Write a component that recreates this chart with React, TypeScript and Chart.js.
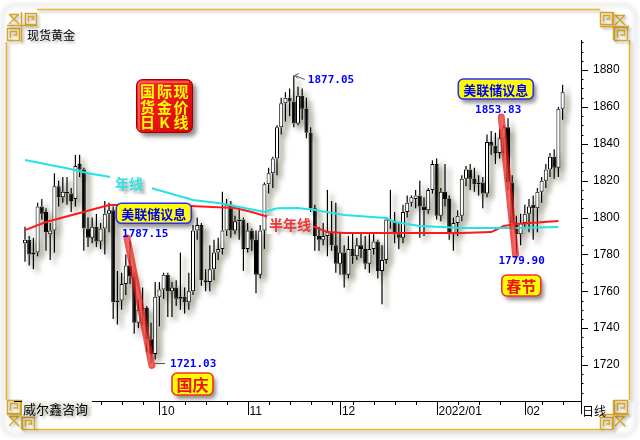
import React, { useEffect, useRef } from 'react';
import { Chart, registerables } from 'chart.js';

Chart.register(...registerables);

// ---- daily OHLC of spot gold (one candle per trading day, 2021-08-18 .. 2022-02-14) ----
const opens = [
  1786, 1788, 1780, 1781, 1806, 1803, 1791, 1793, 1817, 1811,
  1814, 1813, 1810, 1829, 1826, 1794, 1789, 1795, 1787, 1794,
  1802, 1804, 1754, 1755, 1764, 1774, 1768, 1743, 1750, 1751,
  1734, 1726, 1757, 1761, 1769, 1760, 1762, 1756, 1757, 1754,
  1760, 1793, 1796, 1766, 1765, 1772, 1781, 1783, 1793, 1807,
  1793, 1798, 1799, 1783, 1793, 1788, 1769, 1793, 1818, 1824,
  1832, 1849, 1862, 1865, 1863, 1851, 1866, 1859, 1846, 1805,
  1790, 1788, 1790, 1792, 1785, 1775, 1781, 1769, 1783, 1779,
  1785, 1783, 1775, 1783, 1787, 1771, 1777, 1799, 1798, 1791,
  1789, 1803, 1808, 1810, 1812, 1806, 1804, 1815, 1829, 1801,
  1814, 1810, 1791, 1797, 1801, 1821, 1826, 1821, 1818, 1819,
  1813, 1841, 1839, 1835, 1843, 1849, 1819, 1797, 1791, 1797,
  1802, 1807, 1805, 1814, 1820, 1826, 1833, 1827, 1859,
];
const highs = [
  1795, 1790, 1789, 1808, 1810, 1805, 1797, 1824, 1820, 1822,
  1822, 1816, 1834, 1834, 1827, 1800, 1800, 1802, 1797, 1809,
  1808, 1806, 1771, 1770, 1780, 1787.15, 1770, 1756, 1762, 1752,
  1743, 1765, 1765, 1770, 1770, 1765, 1766, 1781, 1762, 1770,
  1796, 1800, 1797, 1772, 1785, 1788, 1789, 1814, 1810, 1809,
  1801, 1806, 1800, 1797, 1794, 1793, 1796, 1819, 1827, 1833,
  1850, 1865, 1868, 1870, 1877.05, 1871, 1870, 1865, 1849, 1807,
  1795, 1797, 1815, 1809, 1808, 1792, 1785, 1790, 1792, 1789,
  1792, 1790, 1791, 1791, 1788, 1785, 1800, 1815, 1803, 1797,
  1807, 1812, 1812, 1815, 1820, 1811, 1816, 1831, 1832, 1816,
  1829, 1812, 1800, 1804, 1823, 1828, 1829, 1827, 1823, 1822,
  1845, 1847, 1846, 1848, 1850, 1853.83, 1823, 1801, 1802, 1807,
  1810, 1812, 1816, 1822, 1829, 1835, 1837, 1860, 1872,
];
const lows = [
  1776, 1774, 1772, 1779, 1799, 1782, 1777, 1781, 1806, 1808,
  1807, 1803, 1806, 1822, 1782, 1784, 1786, 1784, 1783, 1780,
  1792, 1745, 1742, 1750, 1758, 1764, 1737, 1740, 1742, 1727,
  1721.03, 1723, 1741, 1756, 1746, 1746, 1752, 1750, 1748, 1750,
  1758, 1788, 1763, 1760, 1760, 1766, 1777, 1780, 1790, 1789,
  1791, 1788, 1771, 1781, 1782, 1759, 1767, 1783, 1813, 1816,
  1823, 1845, 1852, 1855, 1849, 1850, 1853, 1843, 1803, 1782,
  1782, 1785, 1779, 1782, 1770, 1769, 1762, 1767, 1775, 1777,
  1778, 1772, 1770, 1780, 1767, 1753, 1775, 1794, 1786, 1783,
  1786, 1800, 1806, 1805, 1789, 1790, 1802, 1813, 1799, 1798,
  1806, 1788, 1782, 1790, 1798, 1817, 1815, 1814, 1812, 1805,
  1811, 1834, 1829, 1832, 1835, 1815, 1794, 1779.9, 1785, 1794,
  1792, 1788, 1792, 1808, 1816, 1822, 1821, 1822, 1853,
];
const closes = [
  1788, 1780, 1781, 1806, 1802, 1792, 1793, 1817, 1811, 1814,
  1813, 1809, 1828, 1826, 1794, 1789, 1795, 1787, 1794, 1802,
  1804, 1754, 1755, 1764, 1774, 1768, 1743, 1750, 1751, 1734,
  1726, 1757, 1761, 1769, 1760, 1762, 1756, 1757, 1754, 1760,
  1793, 1796, 1766, 1765, 1772, 1781, 1783, 1793, 1807, 1793,
  1798, 1799, 1783, 1793, 1788, 1769, 1793, 1818, 1824, 1832,
  1849, 1862, 1865, 1863, 1851, 1866, 1859, 1846, 1805, 1790,
  1788, 1790, 1792, 1785, 1775, 1781, 1769, 1783, 1779, 1785,
  1783, 1775, 1783, 1787, 1771, 1777, 1799, 1798, 1791, 1789,
  1803, 1808, 1811, 1812, 1806, 1804, 1815, 1829, 1801, 1814,
  1810, 1791, 1797, 1801, 1821, 1826, 1821, 1818, 1819, 1813,
  1841, 1839, 1835, 1843, 1849, 1819, 1797, 1791, 1797, 1802,
  1806, 1805, 1814, 1820, 1826, 1833, 1827, 1859, 1868,
];

// ---- moving averages (candle index, price) ----
const yearMaIdx = [0, 6, 10, 15, 20, 30, 40, 46, 52, 57, 60, 65, 69, 76, 86, 88, 94, 104, 117, 127];
const yearMaVal = [1831.2, 1828.5, 1826.7, 1824.0, 1822.1, 1816.0, 1809.5, 1807.9, 1805.3, 1803.0, 1805.0, 1805.2, 1804.1, 1801.4, 1799.7, 1797.6, 1795.4, 1794.3, 1794.3, 1794.9];
const halfMaIdx = [0, 5, 13, 20, 34, 50, 54, 58, 69, 72, 76, 104, 111, 114, 117, 127];
const halfMaVal = [1793.2, 1797.6, 1802.5, 1806.8, 1806.8, 1805.2, 1803.0, 1800.3, 1794.9, 1792.1, 1791.6, 1791.6, 1792.1, 1795.4, 1796.5, 1798.1];

// ---- axis ticks ----
const monthStarts = [32, 53, 75, 98, 119];
const monthLabels = ['10', '11', '12', '2022/01', '02'];
const weekTicks = [3, 8, 13, 18, 23, 28, 38, 43, 48, 58, 63, 68, 73, 78, 83, 88, 93, 103, 108, 113, 123, 128];
const yTicks = [1720, 1740, 1760, 1780, 1800, 1820, 1840, 1860, 1880];

// ---- annotated extremes (candle index + which price) ----
const notes = [
  { i: 64, kind: 'high', dx: 14, dy: 5 },
  { i: 25, kind: 'high', dx: -8, dy: -7 },
  { i: 30, kind: 'low', dx: 19, dy: 1 },
  { i: 115, kind: 'high', dx: -33, dy: -8 },
  { i: 117, kind: 'low', dx: -18, dy: 7 },
];
const drops = [
  { i0: 24.3, v0: 1788.9, i1: 30.2, v1: 1719.8 },
  { i0: 113.4, v0: 1854.5, i1: 116.8, v1: 1779.9 },
];

const FONT_CJK = "'Noto Sans CJK SC', 'Noto Sans', sans-serif";
const FONT_LAT = "'Liberation Sans', Arial, sans-serif";
const FONT_MONO = "'DejaVu Sans Mono', monospace";

const idx = closes.map((_, i) => i);
const bodyData = idx.map((i) => {
  let a = Math.min(opens[i], closes[i]);
  let b = Math.max(opens[i], closes[i]);
  if (b - a < 0.6) {
    const m = (a + b) / 2;
    a = m - 0.3;
    b = m + 0.3;
  }
  return { x: i, y: [a, b] };
});
const upperWick = idx.map((i) => ({ x: i, y: [Math.max(opens[i], closes[i]), highs[i]] }));
const lowerWick = idx.map((i) => ({ x: i, y: [lows[i], Math.min(opens[i], closes[i])] }));
const bodyColors = idx.map((i) => (closes[i] >= opens[i] ? '#ffffff' : '#000000'));

function setShadow(ctx: CanvasRenderingContext2D, blur = 3, ox = 3, oy = 3, col = 'rgba(0,0,0,0.4)') {
  ctx.shadowColor = col;
  ctx.shadowBlur = blur;
  ctx.shadowOffsetX = ox;
  ctx.shadowOffsetY = oy;
}
function noShadow(ctx: CanvasRenderingContext2D) {
  ctx.shadowColor = 'transparent';
  ctx.shadowBlur = 0;
  ctx.shadowOffsetX = 0;
  ctx.shadowOffsetY = 0;
}

function spiral(ctx: CanvasRenderingContext2D, x: number, y: number, s: number) {
  ctx.beginPath();
  ctx.rect(x + 0.5, y + 0.5, s, s);
  ctx.moveTo(x + 3.5, y + s - 2.5);
  ctx.lineTo(x + 3.5, y + 3.5);
  ctx.lineTo(x + s - 2.5, y + 3.5);
  ctx.lineTo(x + s - 2.5, y + s - 5);
  ctx.lineTo(x + 6.5, y + s - 5);
  ctx.stroke();
}
function cross(ctx: CanvasRenderingContext2D, x: number, y: number, s: number) {
  ctx.beginPath();
  ctx.moveTo(x, y);
  ctx.lineTo(x + s, y + s);
  ctx.moveTo(x + s, y);
  ctx.lineTo(x, y + s);
  ctx.moveTo(x, y + 0.5);
  ctx.lineTo(x + s, y + 0.5);
  ctx.stroke();
}

function labelBox(ctx: CanvasRenderingContext2D, cx: number, cy: number, w: number, h: number, text: string,
  border: string, color: string, font: string) {
  ctx.save();
  setShadow(ctx, 4, 3, 4, 'rgba(0,0,0,0.45)');
  ctx.beginPath();
  ctx.roundRect(cx - w / 2, cy - h / 2, w, h, 5);
  ctx.fillStyle = '#ffff00';
  ctx.fill();
  noShadow(ctx);
  ctx.lineWidth = 1.6;
  ctx.strokeStyle = border;
  ctx.stroke();
  ctx.fillStyle = color;
  ctx.font = font;
  ctx.textAlign = 'center';
  ctx.textBaseline = 'middle';
  ctx.fillText(text, cx, cy + 1);
  ctx.restore();
}

const decor = {
  id: 'decor',
  beforeDraw(chart: any) {
    const ctx: CanvasRenderingContext2D = chart.ctx;
    ctx.save();
    ctx.fillStyle = '#ffffff';
    ctx.fillRect(0, 0, chart.width, chart.height);
    // faint outer rounded shadow
    ctx.strokeStyle = 'rgba(0,0,0,0.10)';
    ctx.lineWidth = 3;
    ctx.filter = 'blur(2px)';
    ctx.beginPath();
    ctx.roundRect(3, 5, 633, 430, 12);
    ctx.stroke();
    ctx.filter = 'none';
    // golden frame
    setShadow(ctx, 3, 2, 2, 'rgba(0,0,0,0.28)');
    ctx.strokeStyle = '#e9b92c';
    ctx.lineWidth = 1.6;
    ctx.beginPath();
    ctx.moveTo(37, 9.5); ctx.lineTo(600, 9.5);
    ctx.moveTo(629.5, 40); ctx.lineTo(629.5, 400);
    ctx.moveTo(35, 429.5); ctx.lineTo(600, 429.5);
    ctx.moveTo(6.5, 42); ctx.lineTo(6.5, 400);
    ctx.stroke();
    // corner ornaments
    ctx.strokeStyle = '#d6a41e';
    ctx.lineWidth = 1.4;
    // top-left
    cross(ctx, 9, 14, 10); spiral(ctx, 25, 13, 11); spiral(ctx, 7, 28, 12);
    ctx.beginPath(); ctx.moveTo(21.5, 12); ctx.lineTo(21.5, 42); ctx.moveTo(7, 25.5); ctx.lineTo(37, 25.5); ctx.stroke();
    // top-right
    spiral(ctx, 600, 12, 12); cross(ctx, 615, 15, 10); spiral(ctx, 614, 27, 13);
    ctx.beginPath(); ctx.moveTo(613.5, 12); ctx.lineTo(613.5, 40); ctx.moveTo(600, 26.5); ctx.lineTo(629, 26.5); ctx.stroke();
    // bottom-right
    spiral(ctx, 614, 400, 13); spiral(ctx, 600, 417, 12); cross(ctx, 615, 416, 10);
    ctx.beginPath(); ctx.moveTo(613.5, 400); ctx.lineTo(613.5, 429); ctx.moveTo(600, 414.5); ctx.lineTo(629, 414.5); ctx.stroke();
    // bottom-left
    spiral(ctx, 7, 400, 13); cross(ctx, 9, 416, 10); spiral(ctx, 22, 417, 12);
    ctx.beginPath(); ctx.moveTo(21.5, 400); ctx.lineTo(21.5, 429); ctx.moveTo(7, 414.5); ctx.lineTo(36, 414.5); ctx.stroke();
    ctx.restore();
  },
  beforeDatasetsDraw(chart: any) {
    const ctx: CanvasRenderingContext2D = chart.ctx;
    const a = chart.chartArea;
    ctx.save();
    ctx.beginPath();
    ctx.rect(a.left, a.top, a.right - a.left, a.bottom - a.top);
    ctx.clip();
    ctx.filter = 'blur(2.5px)';
    ctx.fillStyle = 'rgba(70,70,35,0.42)';
    ctx.beginPath();
    chart.data.datasets.forEach((ds: any, di: number) => {
      if (ds.type === 'line') return;
      chart.getDatasetMeta(di).data.forEach((el: any) => {
        const p = el.getProps(['x', 'y', 'base', 'width'], true);
        const t = Math.min(p.y, p.base);
        const h = Math.max(Math.abs(p.base - p.y), 1);
        ctx.rect(p.x - p.width / 2 + 4, t + 4, p.width + 1, h);
      });
    });
    ctx.fill();
    ctx.restore();
  },
  afterDraw(chart: any) {
    const ctx: CanvasRenderingContext2D = chart.ctx;
    const xs = chart.scales.x;
    const ys = chart.scales.y;
    const { left, right, top, bottom } = chart.chartArea;
    const px = (v: number) => xs.getPixelForValue(v);
    const py = (v: number) => ys.getPixelForValue(v);
    ctx.save();

    // axes and tick marks
    ctx.strokeStyle = '#000';
    ctx.lineWidth = 1;
    ctx.beginPath();
    ctx.moveTo(left, Math.round(bottom) + 0.5);
    ctx.lineTo(right, Math.round(bottom) + 0.5);
    ctx.moveTo(Math.round(right) + 0.5, top);
    ctx.lineTo(Math.round(right) + 0.5, bottom + 13);
    for (let v = 1705; v <= 1895; v += 5) {
      const y = Math.round(py(v)) + 0.5;
      const len = v % 20 === 0 ? 7 : 2.5;
      ctx.moveTo(right, y);
      ctx.lineTo(right + len, y);
    }
    weekTicks.forEach((i) => {
      const x = Math.round(px(i)) + 0.5;
      ctx.moveTo(x, bottom);
      ctx.lineTo(x, bottom + 4);
    });
    monthStarts.forEach((i) => {
      const x = Math.round(px(i)) + 0.5;
      ctx.moveTo(x, bottom);
      ctx.lineTo(x, bottom + 14);
    });
    ctx.stroke();

    // red highlight strokes of the sharp drops
    ctx.lineCap = 'round';
    drops.forEach((d) => {
      ctx.strokeStyle = 'rgba(232,20,20,0.72)';
      ctx.lineWidth = 7;
      ctx.beginPath();
      ctx.moveTo(px(d.i0), py(d.v0));
      ctx.lineTo(px(d.i1), py(d.v1));
      ctx.stroke();
      ctx.strokeStyle = 'rgba(255,150,130,0.35)';
      ctx.lineWidth = 2.5;
      ctx.stroke();
    });
    ctx.lineCap = 'butt';

    // pointers
    ctx.strokeStyle = '#555';
    ctx.lineWidth = 1;
    {
      const x = px(64), y = py(highs[64]);
      ctx.beginPath();
      ctx.moveTo(x + 1, y);
      ctx.lineTo(x + 11, y + 4);
      ctx.moveTo(x + 1, y);
      ctx.lineTo(x + 5, y - 2);
      ctx.moveTo(x + 1, y);
      ctx.lineTo(x + 4, y + 3);
      ctx.stroke();
      const x2 = px(30), y2 = Math.round(py(lows[30])) + 0.5;
      ctx.beginPath();
      ctx.moveTo(x2 + 4, y2);
      ctx.lineTo(x2 + 14, y2);
      ctx.stroke();
    }

    // extreme value labels
    ctx.font = `bold 11px ${FONT_MONO}`;
    ctx.fillStyle = '#0000ff';
    ctx.textAlign = 'left';
    ctx.textBaseline = 'middle';
    notes.forEach((n) => {
      const v = n.kind === 'high' ? highs[n.i] : lows[n.i];
      ctx.fillText(v.toFixed(2), px(n.i) + n.dx, py(v) + n.dy);
    });

    // MA names
    ctx.font = `bold 14px ${FONT_CJK}`;
    ctx.fillStyle = '#ffffff';
    ctx.fillRect(110, 175, 42, 18);
    ctx.fillRect(267, 216, 46, 18);
    setShadow(ctx, 3, 3, 3, 'rgba(0,0,0,0.35)');
    ctx.fillStyle = '#2ee3e3';
    ctx.fillText('年线', 115, 184);
    ctx.fillStyle = '#f23434';
    ctx.fillText('半年线', 269, 225);
    noShadow(ctx);

    // red title tile
    ctx.save();
    setShadow(ctx, 4, 4, 4, 'rgba(0,0,0,0.45)');
    const g = ctx.createLinearGradient(137, 80, 193, 133);
    g.addColorStop(0, '#ff2a2a');
    g.addColorStop(1, '#d80000');
    ctx.fillStyle = g;
    ctx.beginPath();
    ctx.roundRect(136.5, 79.5, 56, 53, 6);
    ctx.fill();
    noShadow(ctx);
    ctx.strokeStyle = '#9a0000';
    ctx.lineWidth = 1;
    ctx.stroke();
    ctx.strokeStyle = 'rgba(255,170,170,0.8)';
    ctx.beginPath();
    ctx.moveTo(139, 130);
    ctx.lineTo(139, 84);
    ctx.quadraticCurveTo(139, 82, 142, 82);
    ctx.lineTo(189, 82);
    ctx.stroke();
    ctx.fillStyle = '#ffff00';
    ctx.font = `bold 15px ${FONT_CJK}`;
    ctx.textAlign = 'center';
    ctx.textBaseline = 'middle';
    const rows = [['国', '际', '现'], ['货', '金', '价'], ['日', 'K', '线']];
    const cols = [147.5, 164.5, 181];
    const rowsY = [90.5, 106, 121];
    rows.forEach((r, ri) => r.forEach((ch, ci) => ctx.fillText(ch, cols[ci], rowsY[ri] + 1)));
    ctx.restore();

    // event boxes
    labelBox(ctx, 153.8, 213.3, 75, 20, '美联储议息', '#2b2bff', '#0000ff', `bold 13px ${FONT_CJK}`);
    labelBox(ctx, 495.8, 89, 75, 20, '美联储议息', '#2b2bff', '#0000ff', `bold 13px ${FONT_CJK}`);
    labelBox(ctx, 192.5, 384, 41, 22, '国庆', '#ff2a2a', '#ee1111', `bold 16px ${FONT_CJK}`);
    labelBox(ctx, 521.3, 285.5, 39, 21, '春节', '#ff2a2a', '#ee1111', `bold 15px ${FONT_CJK}`);

    // corner captions
    ctx.textAlign = 'left';
    ctx.textBaseline = 'middle';
    ctx.fillStyle = '#f2f2ea';
    ctx.fillRect(22, 401, 70, 15);
    setShadow(ctx, 3, 2, 2, 'rgba(0,0,0,0.35)');
    ctx.fillStyle = '#000';
    ctx.font = `12px ${FONT_CJK}`;
    ctx.fillText('现货黄金', 27, 35.5);
    ctx.font = `13px ${FONT_CJK}`;
    ctx.fillText('威尔鑫咨询', 23, 409);
    noShadow(ctx);
    ctx.font = `12px ${FONT_CJK}`;
    ctx.fillText('日线', 582, 411);

    ctx.restore();
  },
};

export default function App() {
  const ref = useRef<HTMLCanvasElement>(null);
  useEffect(() => {
    if (!ref.current) return;
    const chart = new Chart(ref.current, {
      type: 'bar',
      data: {
        datasets: [
          {
            type: 'line',
            data: yearMaIdx.map((x, k) => ({ x, y: yearMaVal[k] })),
            borderColor: '#22e4e4',
            borderWidth: 2,
            pointRadius: 0,
            fill: false,
            tension: 0,
            order: 1,
          } as any,
          {
            type: 'line',
            data: halfMaIdx.map((x, k) => ({ x, y: halfMaVal[k] })),
            borderColor: '#ff1a1a',
            borderWidth: 2,
            pointRadius: 0,
            fill: false,
            tension: 0,
            order: 1,
          } as any,
          {
            data: upperWick,
            backgroundColor: '#000',
            borderWidth: 0,
            barThickness: 1.2,
            grouped: false,
            inflateAmount: 0,
            order: 2,
          } as any,
          {
            data: lowerWick,
            backgroundColor: '#000',
            borderWidth: 0,
            barThickness: 1.2,
            grouped: false,
            inflateAmount: 0,
            order: 2,
          } as any,
          {
            data: bodyData,
            backgroundColor: bodyColors,
            borderColor: '#000',
            borderWidth: 1,
            borderSkipped: false,
            barThickness: 4,
            grouped: false,
            inflateAmount: 0,
            order: 3,
          } as any,
        ],
      },
      options: {
        responsive: false,
        animation: false,
        events: [],
        layout: { padding: { left: 14, top: 40, right: 0, bottom: 0 } },
        plugins: { legend: { display: false }, tooltip: { enabled: false } },
        scales: {
          x: {
            type: 'linear',
            min: -2.62,
            max: 132.38,
            offset: false,
            grid: { display: false, drawTicks: false },
            border: { display: false },
            afterBuildTicks: (s: any) => {
              s.ticks = monthStarts.map((v) => ({ value: v + 0.45 }));
            },
            afterFit: (s: any) => {
              s.height = 39;
            },
            ticks: {
              autoSkip: false,
              maxRotation: 0,
              align: 'start',
              padding: 3,
              color: '#000',
              font: { size: 12, family: FONT_LAT },
              callback: (_v: any, i: number) => monthLabels[i],
            },
          },
          y: {
            type: 'linear',
            position: 'right',
            min: 1700.5,
            max: 1896.3,
            grid: { display: false, drawTicks: false },
            border: { display: false },
            afterBuildTicks: (s: any) => {
              s.ticks = yTicks.map((v) => ({ value: v }));
            },
            afterFit: (s: any) => {
              s.width = 59;
            },
            ticks: {
              padding: 12,
              color: '#000',
              font: { size: 12, family: FONT_LAT },
              callback: (v: any) => String(v),
            },
          },
        },
      } as any,
      plugins: [decor as any],
    });
    return () => chart.destroy();
  }, []);
  return (
    <div style={{ position: 'absolute', left: 0, top: 0, width: 640, height: 440 }}>
      <canvas ref={ref} width={640} height={440} style={{ display: 'block' }} />
    </div>
  );
}
